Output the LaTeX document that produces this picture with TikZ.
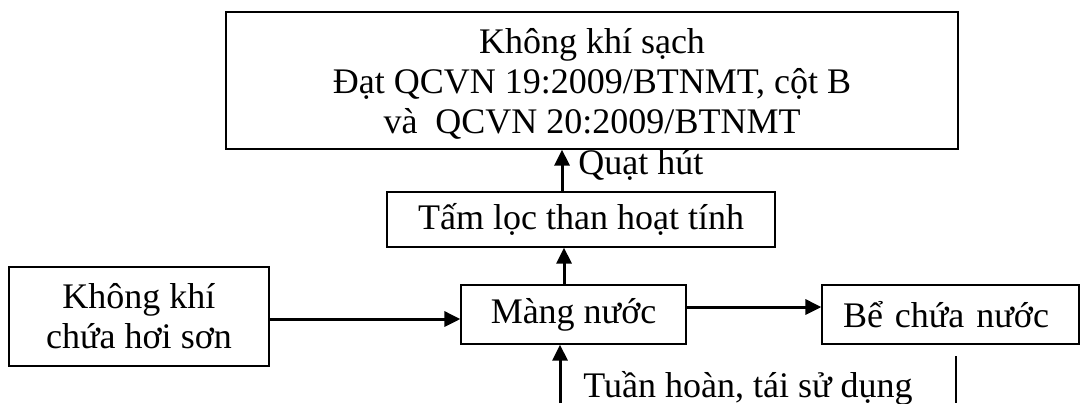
\documentclass[tikz,border=0pt]{standalone}
\usepackage{fontspec}
\setmainfont{Liberation Serif}
\usetikzlibrary{arrows.meta}
\begin{document}
\begin{tikzpicture}[x=0.5pt,y=-0.5pt,
  box/.style={draw, line width=0.6pt, inner sep=0pt, align=center,
    font=\fontsize{18}{20}\selectfont},
  conn/.style={line width=1.5pt, -{Triangle[length=8pt,width=7.5pt]}},
  lbl/.style={inner sep=0pt, anchor=base west, font=\fontsize{18}{19.5}\selectfont}]
\useasboundingbox (0,0) rectangle (1080,403);
\node[box, minimum width=366pt, minimum height=68.5pt] (sach) at (592,80.5)
  {\rule{0pt}{16pt}Không khí sạch\\Đạt QCVN 19:2009/BTNMT, cột B\\và\ \ QCVN 20:2009/BTNMT};
\node[box, minimum width=194pt, minimum height=27.5pt] (tam) at (581,219.5)
  {Tấm lọc than hoạt tính};
\node[box, minimum width=130pt, minimum height=49.5pt] (kk) at (139,316.5)
  {Không khí\\chứa hơi sơn};
\node[box, minimum width=112.5pt, minimum height=29.5pt] (mang) at (573.5,314.5)
  {Màng nước};
\node[box, align=left, text width=107.5pt, inner xsep=10.5pt, minimum height=29.5pt] (be) at (950.5,314.5)
  {Bể chứa nước};
\node[lbl] (quat) at (578,174) {Quạt hút};
\node[lbl] (tuan) at (583,397) {Tuần hoàn, tái sử dụng};
\coordinate (bot) at (560,403);
\coordinate (vt) at (956,356);
\coordinate (vb) at (956,403);
\draw[conn] ([xshift=-9.5pt]tam.north) -- ([xshift=-9.5pt]tam.north |- sach.south);
\draw[conn] ([xshift=-8.5pt]mang.north -| tam.north) coordinate (mt) -- (mt |- tam.south);
\draw[conn] (kk.east |- 0,319) -- (mang.west |- 0,319);
\draw[conn] (mang.east |- 0,307) -- (be.west |- 0,307);
\draw[conn] (bot) -- (bot |- mang.south);
\draw[line width=0.6pt] (vt) -- (vb);
\end{tikzpicture}
\end{document}
